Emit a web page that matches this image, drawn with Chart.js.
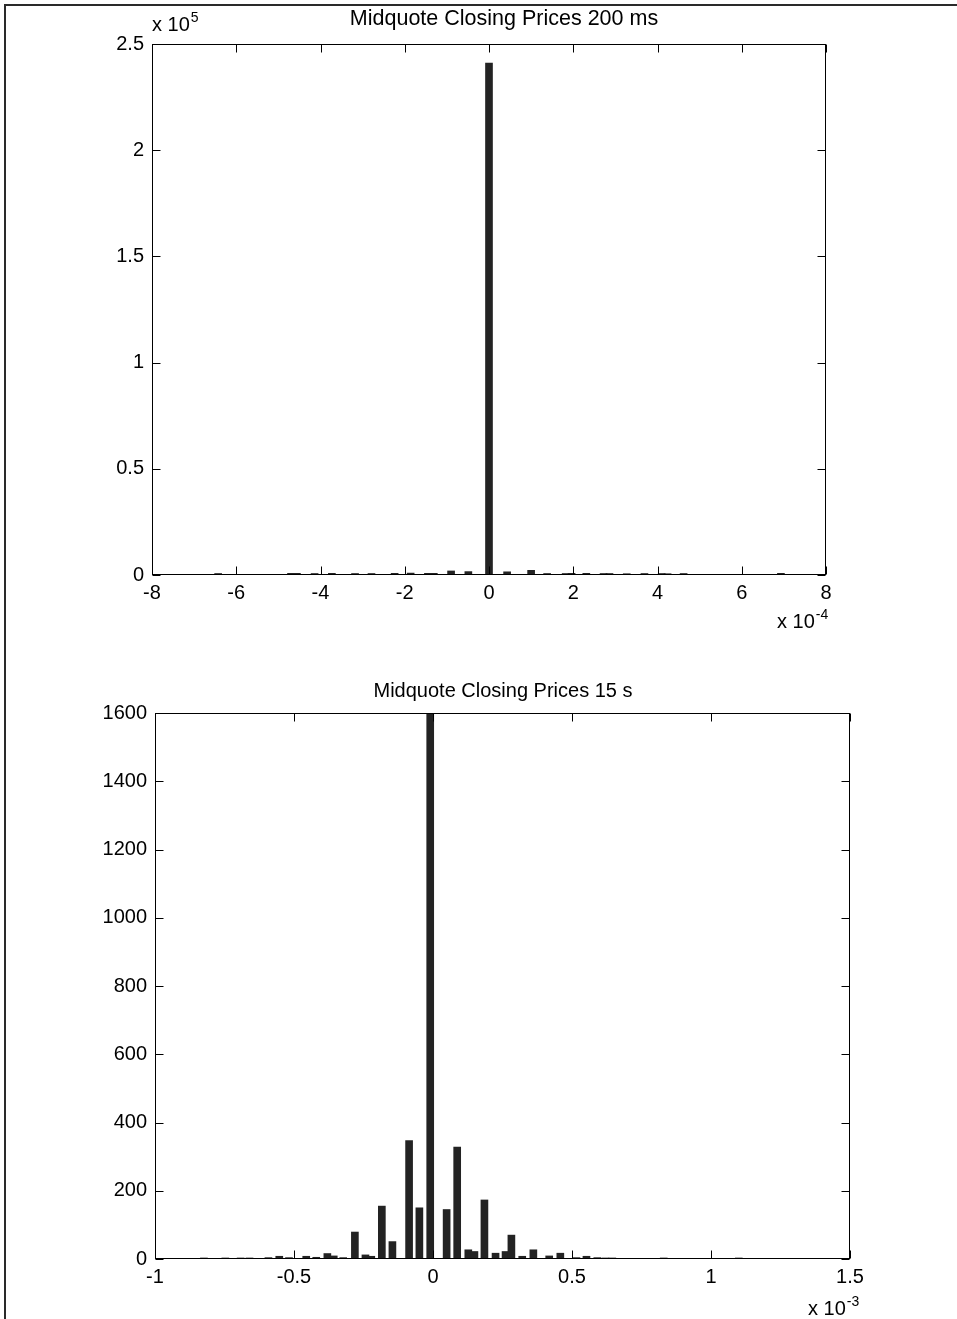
<!DOCTYPE html>
<html><head><meta charset="utf-8">
<script src="https://cdn.jsdelivr.net/npm/chart.js@4.4.1/dist/chart.umd.min.js"></script>
<style>
html,body{margin:0;padding:0;background:#fff;width:957px;height:1319px;overflow:hidden;}
#frame{position:absolute;left:4px;top:4px;width:970px;height:1330px;border-top:2px solid #2a2a2a;border-left:2px solid #2a2a2a;box-sizing:border-box;}
canvas{position:absolute;left:0;}
#c1{top:0}
#c2{top:640px}
</style></head><body>
<div id="frame"></div>
<canvas id="c1" width="957" height="640"></canvas>
<canvas id="c2" width="957" height="679"></canvas>
<script>
// ---- Top histogram: "Midquote Closing Prices 200 ms" (x in units of 1e-4) ----
const topTitle = "Midquote Closing Prices 200 ms";
const topBinCenters = [-6.43, -4.70, -4.56, -4.14, -3.73, -3.18, -2.79, -2.24, -1.86, -1.45, -1.31, -0.90, -0.49, 0.00,
                       0.43, 1.00, 1.38, 1.82, 1.96, 2.31, 2.72, 2.86, 3.27, 3.69, 4.10, 4.24, 4.62, 6.93];
const topCounts = [700, 800, 800, 700, 800, 700, 700, 800, 900, 800, 800, 1900, 1600, 241000,
                   1500, 2200, 700, 700, 800, 800, 700, 700, 600, 700, 700, 600, 700, 800];
const topXTicks = [-8, -6, -4, -2, 0, 2, 4, 6, 8];
const topYTicks = [0, 50000, 100000, 150000, 200000, 250000];
const topYTickLabels = ["0", "0.5", "1", "1.5", "2", "2.5"];
const topYExponent = "5";
const topXExponent = "-4";

// ---- Bottom histogram: "Midquote Closing Prices 15 s" (x in units of 1e-3) ----
const botTitle = "Midquote Closing Prices 15 s";
const botBinCenters = [-0.824, -0.747, -0.692, -0.660, -0.592, -0.553, -0.518, -0.456, -0.420, -0.380, -0.357, -0.323,
                       -0.281, -0.243, -0.222, -0.184, -0.146, -0.086, -0.049, -0.010, 0.049, 0.087, 0.127, 0.149,
                       0.185, 0.225, 0.261, 0.282, 0.321, 0.361, 0.418, 0.458, 0.516, 0.552, 0.591, 0.620, 0.645,
                       0.830, 1.100];
const botCounts = [3, 3, 3, 3, 4, 8, 4, 8, 5, 16, 9, 4,
                   79, 12, 8, 155, 51, 347, 150, 1600, 145, 328, 27, 22,
                   173, 17, 22, 70, 8, 27, 9, 17, 4, 8, 4, 3, 3,
                   3, 3];
const botXTicks = [-1, -0.5, 0, 0.5, 1, 1.5];
const botYTicks = [0, 200, 400, 600, 800, 1000, 1200, 1400, 1600];
const botXExponent = "-3";

const FONT = "'Liberation Sans', Arial, Helvetica, sans-serif";
const BAR_COLOR = "#232323";

function matlabAxes(cfg) {
  return {
    id: 'matlabAxes',
    afterDraw(chart) {
      const {ctx, chartArea: a, scales: {x, y}} = chart;
      ctx.save();
      ctx.strokeStyle = '#000';
      ctx.lineWidth = 1;
      const L = Math.round(a.left) + 0.5, R = Math.round(a.right) - 0.5;
      const T = Math.round(a.top) + 0.5, B = Math.round(a.bottom) - 0.5;
      ctx.strokeRect(L, T, R - L, B - T);
      const len = 8;
      ctx.beginPath();
      x.ticks.forEach(t => {
        const px = Math.round(x.getPixelForValue(t.value)) + 0.5;
        ctx.moveTo(px, B); ctx.lineTo(px, B - len);
        ctx.moveTo(px, T); ctx.lineTo(px, T + len);
      });
      y.ticks.forEach(t => {
        const py = Math.round(y.getPixelForValue(t.value)) + 0.5;
        ctx.moveTo(L, py); ctx.lineTo(L + len, py);
        ctx.moveTo(R, py); ctx.lineTo(R - len, py);
      });
      ctx.stroke();
      ctx.fillStyle = '#000';
      ctx.textBaseline = 'alphabetic';
      ctx.font = `${cfg.titleSize}px ${FONT}`;
      ctx.textAlign = 'center';
      ctx.fillText(cfg.title, cfg.titleX, cfg.titleY);
      cfg.exps.forEach(e => {
        ctx.textAlign = 'left';
        ctx.font = `20px ${FONT}`;
        ctx.fillText('x 10', e.x, e.y);
        const w = ctx.measureText('x 10').width;
        ctx.font = `14px ${FONT}`;
        ctx.fillText(e.sup, e.x + w + 1, e.y - 9);
      });
      ctx.restore();
    }
  };
}

function makeChart(id, xs, ys, o) {
  const pts = xs.map((v, i) => ({x: v, y: ys[i]}));
  return new Chart(document.getElementById(id), {
    type: 'bar',
    data: { datasets: [{ data: pts, backgroundColor: BAR_COLOR, borderWidth: 0, barThickness: 7, clip: 0 }] },
    options: {
      responsive: false, animation: false, devicePixelRatio: 1,
      layout: { padding: { top: o.padTop, right: o.padRight, left: 0, bottom: 0 } },
      plugins: { legend: { display: false }, tooltip: { enabled: false }, title: { display: false } },
      scales: {
        x: {
          type: 'linear', min: o.xTicks[0], max: o.xTicks[o.xTicks.length - 1], offset: false,
          afterBuildTicks: s => { s.ticks = o.xTicks.map(v => ({value: v})); },
          afterFit: s => { s.height = o.xHeight; },
          grid: { display: false, drawTicks: false, offset: false },
          border: { display: false },
          ticks: { color: '#000', padding: 6, maxRotation: 0, autoSkip: false, font: { family: FONT, size: 20 },
                   callback: v => String(v) }
        },
        y: {
          type: 'linear', min: o.yTicks[0], max: o.yTicks[o.yTicks.length - 1],
          afterBuildTicks: s => { s.ticks = o.yTicks.map(v => ({value: v})); },
          afterFit: s => { s.width = o.yWidth; },
          grid: { display: false, drawTicks: false },
          border: { display: false },
          ticks: { color: '#000', padding: 8, autoSkip: false, font: { family: FONT, size: 20 },
                   callback: v => o.yLabel(v) }
        }
      }
    },
    plugins: [matlabAxes(o)]
  });
}

makeChart('c1', topBinCenters, topCounts, {
  padTop: 44, padRight: 131, xHeight: 65, yWidth: 152,
  xTicks: topXTicks, yTicks: topYTicks,
  yLabel: v => topYTickLabels[topYTicks.indexOf(v)],
  title: topTitle, titleX: 504, titleY: 25, titleSize: 21.5,
  exps: [{x: 152, y: 31, sup: topYExponent}, {x: 777, y: 628, sup: topXExponent}]
});

makeChart('c2', botBinCenters, botCounts, {
  padTop: 73, padRight: 107, xHeight: 60, yWidth: 155,
  xTicks: botXTicks, yTicks: botYTicks,
  yLabel: v => String(v),
  title: botTitle, titleX: 503, titleY: 57, titleSize: 20,
  exps: [{x: 808, y: 675, sup: botXExponent}]
});
</script>
</body></html>
